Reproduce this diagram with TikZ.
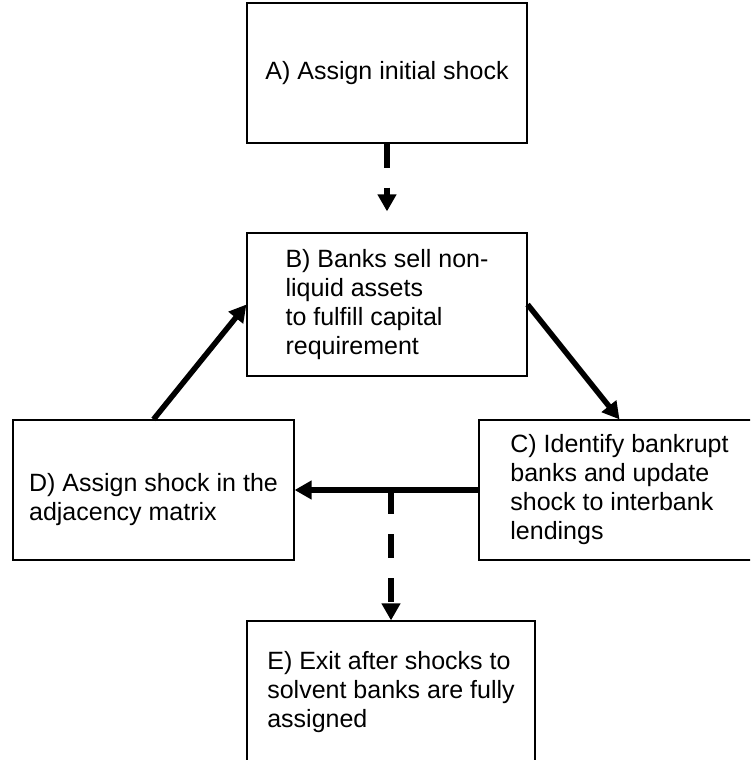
\documentclass[tikz,border=0pt]{standalone}
\usepackage{fontspec}
\setmainfont{Liberation Sans}
\usetikzlibrary{arrows.meta}

\begin{document}
\begin{tikzpicture}[x=1pt,y=-1pt,>={Triangle[length=17pt,width=18pt]},
    stage node/.style={rectangle,draw,line width=1.2pt,minimum width=281pt,minimum height=140pt,align=left,inner sep=0pt,font=\fontsize{25}{29}\selectfont},
    flow/.style={->,line width=5.5pt},
    flow dash/.style={flow,dash pattern=on 24pt off 20pt}]
    \useasboundingbox (0,0) rectangle (750,760);
    \clip (0,0) rectangle (750,760);

    \node[stage node,minimum width=280pt] (a) at (387,73) {A) Assign initial shock};
    \node[stage node,minimum width=280pt,minimum height=143pt] (b) [below of=a,node distance=231.5pt] {B) Banks sell non-\\liquid assets\\to fulfill capital\\requirement};
    \node[stage node] (c) at (619.5,490) {C) Identify bankrupt\\banks and update\\shock to interbank\\lendings};
    \node[stage node] (d) at (153.5,490) {\rule{0pt}{38pt}D) Assign shock in the\\adjacency matrix};
    \node[stage node,minimum width=288pt,minimum height=143pt] (e) at (391,692.5) {E) Exit after shocks to\\solvent banks are fully\\assigned};
    \coordinate (split) at (c.west -| e.north);

    \draw[flow dash,shorten >=21pt] (a) -- (b);
    \draw[flow] (b.east) -- (c.north);
    \draw[flow] (c.west) -- (d.east);
    \draw[flow] (d.north) -- (b.west);
    \draw[flow dash] (split) -- (e.north);
\end{tikzpicture}
\end{document}
